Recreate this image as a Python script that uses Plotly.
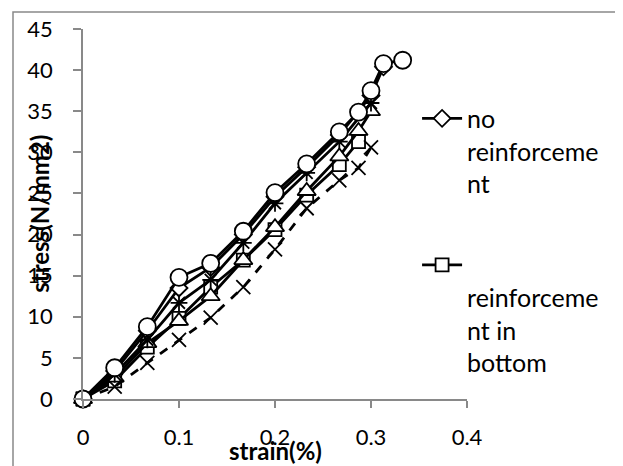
import plotly.graph_objects as go

# ---- data ----
strain_no = [0, 0.033, 0.067, 0.1, 0.133, 0.167, 0.2, 0.233, 0.267, 0.3, 0.313]
stress_no = [0, 3.4, 8.3, 13.5, 16.0, 20.0, 24.6, 28.2, 32.1, 36.9, 40.4]

strain_bottom = [0, 0.033, 0.067, 0.1, 0.133, 0.167, 0.2, 0.233, 0.267, 0.287]
stress_bottom = [0, 2.2, 6.3, 9.8, 13.6, 16.9, 20.6, 24.8, 28.5, 31.3]

strain_s3 = [0, 0.033, 0.067, 0.1, 0.133, 0.167, 0.2, 0.233, 0.267, 0.287, 0.3]
stress_s3 = [0, 2.6, 6.8, 9.5, 12.5, 16.9, 20.9, 25.3, 29.5, 32.6, 35.0]

strain_s4 = [0, 0.033, 0.067, 0.1, 0.133, 0.167, 0.2, 0.233, 0.267, 0.287, 0.3]
stress_s4 = [0, 1.5, 4.4, 7.2, 9.9, 13.6, 18.2, 23.2, 26.6, 28.1, 30.6]

strain_s5 = [0, 0.033, 0.067, 0.1, 0.133, 0.167, 0.2, 0.233, 0.267, 0.3]
stress_s5 = [0, 3.0, 7.2, 11.7, 14.5, 19.0, 23.8, 27.5, 31.3, 36.0]

strain_s6 = [0, 0.033, 0.067, 0.1, 0.133, 0.167, 0.2, 0.233, 0.267, 0.287, 0.3, 0.313, 0.333]
stress_s6 = [0, 3.8, 8.8, 14.8, 16.5, 20.4, 25.1, 28.6, 32.5, 34.9, 37.5, 40.8, 41.2]

series_names = ["no<br>reinforceme<br>nt",
                "<br>reinforceme<br>nt in<br>bottom",
                "series 3", "series 4", "series 5", "series 6"]

x_ticks = [0, 0.1, 0.2, 0.3, 0.4]
y_ticks = [0, 5, 10, 15, 20, 25, 30, 35, 40, 45]

FONT = "Lato"
GRAY = "#898989"

fig = go.Figure()

specs = [
    (strain_no, stress_no, "diamond", 13, "solid", True),
    (strain_bottom, stress_bottom, "square", 13, "solid", True),
    (strain_s3, stress_s3, "triangle-up", 16, "solid", False),
    (strain_s4, stress_s4, "x-thin", 14, "dash", False),
    (strain_s5, stress_s5, "asterisk", 14, "solid", False),
    (strain_s6, stress_s6, "circle", 17, "solid", False),
]
for i, (xs, ys, sym, sz, dash, show) in enumerate(specs):
    fig.add_trace(go.Scatter(
        x=xs, y=ys, mode="lines+markers", name=series_names[i],
        legendgroup=f"g{i}", showlegend=show, cliponaxis=False,
        line=dict(color="black", width=2.8, dash=dash),
        marker=dict(symbol=sym, size=sz, color="white",
                    line=dict(color="black", width=1.8)),
    ))

fig.update_layout(
    width=623, height=466,
    margin=dict(l=75, r=164, t=21, b=75, autoexpand=False),
    paper_bgcolor="white", plot_bgcolor="white",
    font=dict(family=FONT, color="black"),
    showlegend=True,
    legend=dict(
        x=0.870, y=0.82, xanchor="left", yanchor="top",
        font=dict(family=FONT, size=25, color="black"),
        valign="top", tracegroupgap=46,
        bgcolor="rgba(0,0,0,0)", itemwidth=40,
    ),
    xaxis=dict(
        range=[0, 0.4], tickvals=x_ticks, ticktext=[str(v) for v in x_ticks],
        showgrid=False, zeroline=False, showline=True, linecolor=GRAY, linewidth=1.5,
        ticks="outside", ticklen=7, tickcolor=GRAY, tickwidth=1.5,
        tickfont=dict(family=FONT, size=22, color="black"),
        ticklabelstandoff=11,
    ),
    yaxis=dict(
        range=[0, 45], tickvals=y_ticks,
        showgrid=False, zeroline=False, showline=True, linecolor=GRAY, linewidth=1.5,
        ticks="outside", ticklen=8, tickcolor=GRAY, tickwidth=1.5,
        tickfont=dict(family=FONT, size=22, color="black"),
        ticklabelstandoff=16,
    ),
    annotations=[
        dict(text="<b>strain(%)</b>", xref="paper", yref="paper", x=0.5, y=-0.138,
             xanchor="center", yanchor="middle", showarrow=False,
             font=dict(family=FONT, size=24, color="black")),
        dict(text="<b>stress(N/mm2)</b>", xref="paper", yref="paper", x=-0.115, y=0.5,
             xanchor="center", yanchor="middle", showarrow=False, textangle=-90,
             font=dict(family=FONT, size=24, color="black")),
    ],
    shapes=[
        dict(type="rect", xref="paper", yref="paper",
             x0=(13 - 83) / 384, x1=(621 - 83) / 384,
             y0=-0.3, y1=(399 - 12) / 370,
             line=dict(color=GRAY, width=1.5), layer="below"),
    ],
)

fig.write_html("out.html")
